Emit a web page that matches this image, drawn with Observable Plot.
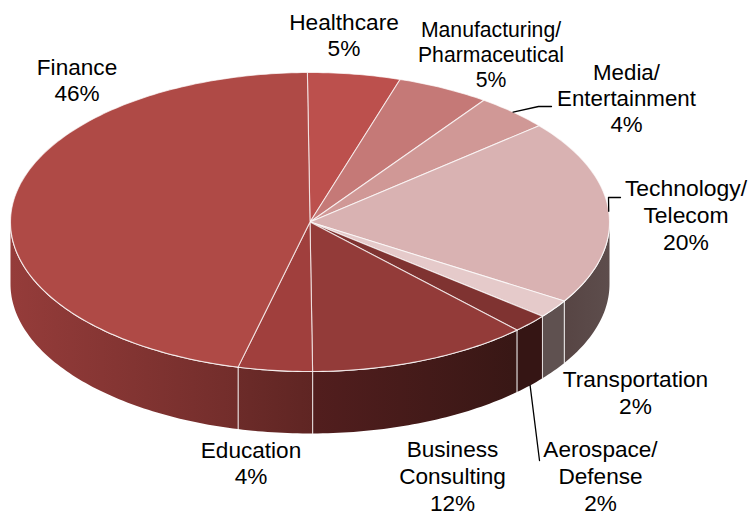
<!DOCTYPE html>
<html>
<head>
<meta charset="utf-8">
<script src="https://cdn.jsdelivr.net/npm/d3@7"></script>
<script src="https://cdn.jsdelivr.net/npm/@observablehq/plot@0.6"></script>
<style>html,body{margin:0;padding:0;background:#fff}svg{display:block}</style>
</head>
<body>
<div id="chart"></div>
<script>
// Data
const sectors = ["Healthcare","Manufacturing/\nPharmaceutical","Media/\nEntertainment","Technology/\nTelecom","Transportation","Aerospace/\nDefense","Business\nConsulting","Education","Finance"];
const shares = [5,5,4,20,2,2,12,4,46];

// Styles
const topColors = ["#BC504D","#C57977","#D09896","#D9B2B2","#E5CACA","#7F3331","#933B39","#A03F3D","#AF4A46"];
const wallFrom = ["#5a4a49","#5a4a49","#5a4a49","#574544","#5f5150","#351514","#521e1e","#6c2b29","#953c3a"];
const wallTo = ["#5a4a49","#5a4a49","#5a4a49","#5d4d4c","#5f5150","#351514","#381715","#5f2523","#722d2b"];

// Layout of the tilted disc, in the plot's own units
const disc = {cx:309.5, cy:221.5, rx:299.5, ry:149.5, depth:62, startDeg:-0.5};
const labelX = [343.5,490.5,626,685.5,635,600,452,250.5,76.5];
const labelY = [34,53,97,214,391.5,475,475,462,79];
const labelSize = [22.7,21.2,22.3,22.9,22.7,22.6,22.6,22.6,22.6];
const leaders = {2:[[538,106],[551,106]], 3:[[608,197],[620,197]], 5:[[539,460]]};

const total = d3.sum(shares);
const point = (deg, drop=0) => {
  const t = deg*Math.PI/180;
  return {x: disc.cx+disc.rx*Math.sin(t), y: disc.cy-disc.ry*Math.cos(t)+drop};
};
const arc = (a,b,drop=0) => {
  const n = Math.max(2, Math.ceil(Math.abs(b-a)));
  return d3.range(n+1).map(i => point(a+(b-a)*i/n, drop));
};
let acc = disc.startDeg;
const slices = shares.map((v,i) => {
  const a = acc, b = acc + v/total*360; acc = b;
  return {i, a, b, mid:(a+b)/2};
});

const wallMarks = [], topMarks = [];
// Visible side walls span the front half of the disc
slices.forEach(s => {
  const a = Math.max(s.a,90), b = Math.min(s.b,270);
  if (b <= a) return;
  const poly = [...arc(a,b), ...arc(b,a,disc.depth)];
  wallMarks.push(Plot.line(poly,{x:"x",y:"y",fill:`url(#wall${s.i})`,stroke:"none"}));
  // seams between walls
  for (const e of [a,b]) if (e>90 && e<270)
    wallMarks.push(Plot.line([point(e),point(e,disc.depth)],{x:"x",y:"y",stroke:"#fff",strokeOpacity:0.75,strokeWidth:1}));
  wallMarks.push(Plot.line(arc(a,b),{x:"x",y:"y",stroke:"#fff",strokeWidth:1.2}));
});
slices.forEach(s => {
  const poly = [{x:disc.cx,y:disc.cy}, ...arc(s.a,s.b), {x:disc.cx,y:disc.cy}];
  topMarks.push(Plot.line(poly,{x:"x",y:"y",fill:topColors[s.i],stroke:"#fff",strokeOpacity:0.7,strokeWidth:1.1,strokeLinejoin:"round"}));
});

const leaderMarks = Object.entries(leaders).map(([k,tail]) => {
  const s = slices[+k];
  const start = point(s.mid, s.mid>90 && s.mid<270 ? disc.depth : 0);
  return Plot.line([start, ...tail.map(([x,y])=>({x,y}))],{x:"x",y:"y",stroke:"#000",strokeWidth:1.3});
});

const labels = sectors.map((name,i)=>({text:`${name}\n${shares[i]}%`,x:labelX[i],y:labelY[i],size:labelSize[i]}));

const plot = Plot.plot({
  width:750, height:515, margin:0,
  x:{domain:[0,750],range:[0,750],axis:null},
  y:{domain:[0,515],range:[0,515],axis:null},
  style:{fontFamily:"'Liberation Sans',Arial,sans-serif",background:"#fff",color:"#000"},
  marks:[
    ...wallMarks,
    ...topMarks,
    ...leaderMarks,
    Plot.text(labels,{x:"x",y:"y",text:"text",fontSize:"size",lineHeight:1.18,fill:"#000",textAnchor:"middle"})
  ]
});

// Horizontal shading for the walls
const defs = d3.create("svg:defs");
slices.forEach(s => {
  const g = defs.append("linearGradient").attr("id",`wall${s.i}`).attr("x1",0).attr("x2",1).attr("y1",0).attr("y2",0);
  g.append("stop").attr("offset",0).attr("stop-color",wallFrom[s.i]);
  g.append("stop").attr("offset",1).attr("stop-color",wallTo[s.i]);
});
plot.insertBefore(defs.node(), plot.firstChild);
document.getElementById("chart").appendChild(plot);
</script>
</body>
</html>
